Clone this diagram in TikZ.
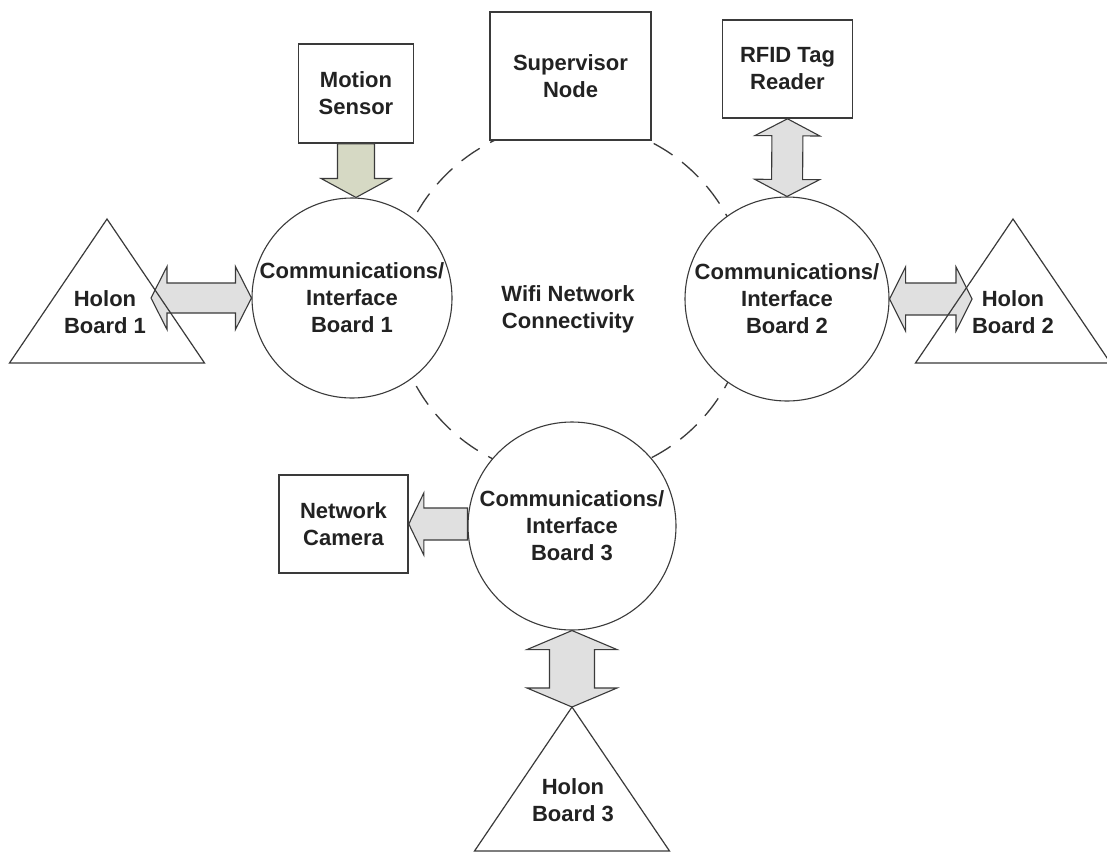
\documentclass[tikz,border=0pt]{standalone}
\usepackage{fontspec}
\setmainfont{Liberation Sans}
\usetikzlibrary{calc}
\definecolor{ink}{HTML}{222222}
\definecolor{edge}{HTML}{3A3A3A}
\definecolor{arrowgray}{HTML}{E0E0E0}
\definecolor{sage}{HTML}{D6D9C4}
\tikzset{
  lbl/.style={font=\bfseries\fontsize{22}{27}\selectfont, text=ink, align=center},
  boxnode/.style={draw=edge, line width=1.6pt, fill=white, inner sep=0pt, lbl},
  board/.style={circle, draw=edge, line width=1.1pt, fill=white, inner sep=0pt, minimum size=#1, lbl},
  wifiline/.style={draw=edge, line width=1.3pt, dash pattern=on 22pt off 12pt},
  holon/.style={draw=edge, line width=1.2pt, line join=miter},
  dblarrow/.style n args={3}{draw=edge, line width=1.1pt, line join=miter, to path={
    let \p1=(\tikztostart), \p2=(\tikztotarget),
        \n1={veclen(\x2-\x1,\y2-\y1)}, \n2={atan2(\y2-\y1,\x2-\x1)} in
    (\p1) -- ($(\p1)+(\n2:#3)+(\n2+90:#2)$) -- ($(\p1)+(\n2:#3)+(\n2+90:#1)$)
    -- ($(\p1)+(\n2:\n1-#3)+(\n2+90:#1)$) -- ($(\p1)+(\n2:\n1-#3)+(\n2+90:#2)$)
    -- (\p2)
    -- ($(\p1)+(\n2:\n1-#3)+(\n2-90:#2)$) -- ($(\p1)+(\n2:\n1-#3)+(\n2-90:#1)$)
    -- ($(\p1)+(\n2:#3)+(\n2-90:#1)$) -- ($(\p1)+(\n2:#3)+(\n2-90:#2)$) -- cycle}},
  sglarrow/.style n args={3}{draw=edge, line width=1.1pt, line join=miter, to path={
    let \p1=(\tikztostart), \p2=(\tikztotarget),
        \n1={veclen(\x2-\x1,\y2-\y1)}, \n2={atan2(\y2-\y1,\x2-\x1)} in
    ($(\p1)+(\n2+90:#1)$) -- ($(\p1)+(\n2:\n1-#3)+(\n2+90:#1)$) -- ($(\p1)+(\n2:\n1-#3)+(\n2+90:#2)$)
    -- (\p2)
    -- ($(\p1)+(\n2:\n1-#3)+(\n2-90:#2)$) -- ($(\p1)+(\n2:\n1-#3)+(\n2-90:#1)$)
    -- ($(\p1)+(\n2-90:#1)$) -- cycle}}
}
\begin{document}
\begin{tikzpicture}[x=1pt, y=-1pt]
\useasboundingbox[fill=white] (0,0) rectangle (1107,852);

% wifi ring
\draw[wifiline] (571,300) circle[radius=177pt];
\node[lbl] (wifi) at (568,309) {Wifi Network\\Connectivity};

% boxes
\node[boxnode, minimum width=115pt, minimum height=99pt] (mot) at (356,93.5) {Motion\\Sensor};
\node[boxnode, minimum width=161pt, minimum height=128pt] (sup) at (570.5,76) {Supervisor\\Node};
\node[boxnode, minimum width=130pt, minimum height=98pt] (rfid) at (787.5,69) {RFID Tag\\Reader};
\node[boxnode, minimum width=129pt, minimum height=98pt] (cam) at (343.5,524) {Network\\Camera};

% boards
\node[board=200pt] (c1) at (352,298) {Communications/\\Interface\\Board 1};
\node[board=204pt] (c2) at (787,299) {Communications/\\Interface\\Board 2};
\node[board=208pt] (c3) at (572,526) {Communications/\\Interface\\Board 3};

% connector end points
\coordinate (a1s) at (151,298);
\coordinate (a2e) at (972,299);
\coordinate (t3) at (572,707);

% block arrows
\draw[sglarrow={18.5pt}{35pt}{19pt}, fill=sage] (mot.south) to (mot.south |- c1.north);
\draw[dblarrow={15.5pt}{32.5pt}{17pt}, fill=arrowgray] (rfid.south) to (c2.north);
\draw[dblarrow={15pt}{31.5pt}{16pt}, fill=arrowgray] (a1s) to (c1.west);
\draw[dblarrow={16pt}{32pt}{16pt}, fill=arrowgray] (c2.east) to (a2e);
\draw[sglarrow={16pt}{31pt}{15pt}, fill=arrowgray] (c3.west |- cam.east) to (cam.east);
\draw[dblarrow={22.5pt}{45pt}{19pt}, fill=arrowgray] (c3.south) to (t3);

% holon boards
\draw[holon] (107,219) -- (204.5,363) -- (9.5,363) -- cycle;
\draw[holon] (1013,219) -- (1110.5,363) -- (915.5,363) -- cycle;
\draw[holon] (t3) -- (669.5,851) -- (474.5,851) -- cycle;
\node[lbl] (h1) at (105,312) {Holon\\Board 1};
\node[lbl] (h2) at (1013,312) {Holon\\Board 2};
\node[lbl] (h3) at (573,800) {Holon\\Board 3};
\end{tikzpicture}
\end{document}
